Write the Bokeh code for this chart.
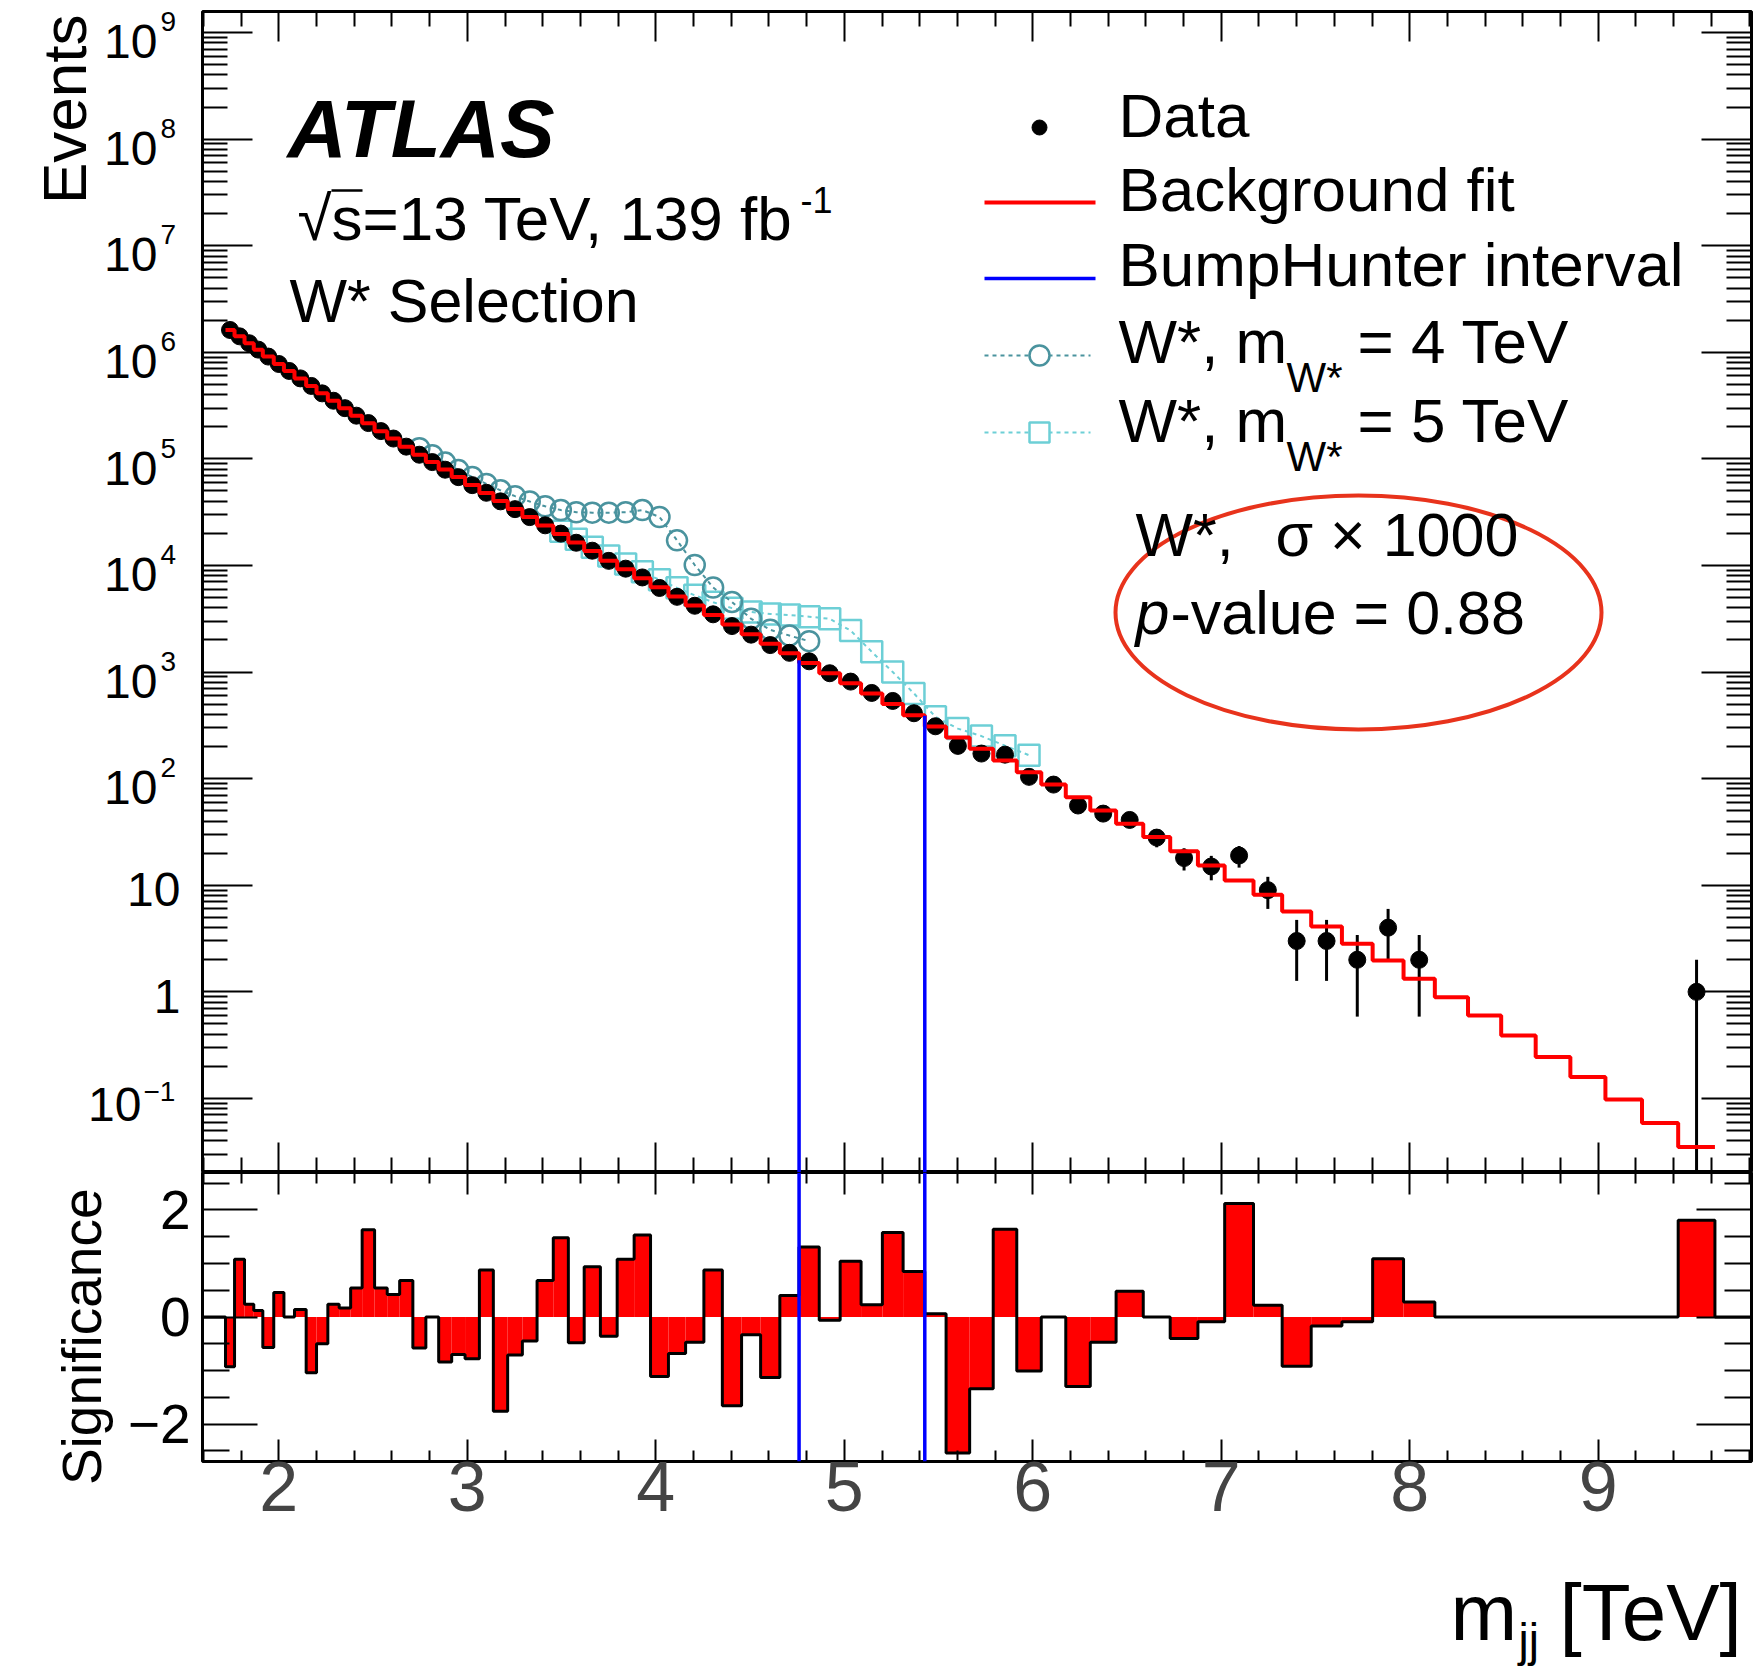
import math
from bokeh.plotting import figure
from bokeh.models import (Range1d, LinearScale, FixedTicker, LinearAxis, LogAxis, Label,
                          CustomJSTickFormatter)
from bokeh.layouts import column, row
from bokeh.embed import file_html
from bokeh.resources import INLINE

FONT = "Liberation Sans"

# ---------------- data ----------------
bin_edges = [1.717, 1.765, 1.818, 1.867, 1.915, 1.973, 2.027, 2.083, 2.145, 2.200,
             2.260, 2.320, 2.381, 2.442, 2.508, 2.575, 2.641, 2.711, 2.780, 2.848,
             2.917, 2.988, 3.064, 3.138, 3.214, 3.292, 3.370, 3.456, 3.536, 3.620,
             3.706, 3.795, 3.885, 3.972, 4.067, 4.158, 4.255, 4.353, 4.455, 4.556,
             4.658, 4.760, 4.867, 4.978, 5.089, 5.202, 5.312, 5.427, 5.540, 5.665,
             5.790, 5.915, 6.045, 6.175, 6.305, 6.442, 6.586, 6.729, 6.876, 7.018,
             7.171, 7.323, 7.477, 7.640, 7.803, 7.967, 8.133, 8.309, 8.485, 8.668,
             8.852, 9.038, 9.232, 9.424, 9.619]

background_fit = [1.62e6, 1.413e6, 1.216e6, 1.059e6, 9.12e5, 7.76e5, 6.68e5, 5.69e5, 4.84e5, 4.12e5,
                  3.51e5, 2.99e5, 2.54e5, 2.16e5, 1.82e5, 1.55e5, 1.30e5, 1.096e5, 9.33e4, 7.94e4,
                  6.76e4, 5.69e4, 4.79e4, 4.03e4, 3.39e4, 2.85e4, 2.37e4, 1.97e4, 1.64e4, 1.365e4,
                  1.109e4, 9230, 7590, 6240, 5130, 4220, 3430, 2790, 2260, 1840,
                  1500, 1216, 977, 785, 631, 501, 394, 309, 243, 191,
                  148, 115, 88.1, 66.8, 50.4, 37.8, 28.3, 20.9, 15.3, 11.1,
                  8.15, 5.68, 4.10, 2.82, 1.97, 1.33, 0.89, 0.60, 0.39, 0.245,
                  0.159, 0.098, 0.059, 0.035]

data_events = [1618816, 1411282, 1216265, 1059123, 911456, 776405, 667990, 569106, 483276, 411679,
               351142, 299093, 254272, 216758, 182231, 155165, 130245, 109408, 93295, 79163,
               67418, 56714, 48093, 39946, 33769, 28424, 23805, 19907, 16339, 13760,
               11052, 9334, 7723, 6152, 5081, 4189, 3482, 2702, 2244, 1792,
               1515, 1262, 975, 814, 637, 536, 411, 310, 203, 172,
               168, 104, 88, 56, 47, 41, 28, 18, 15, 19,
               9, 3, 3, 2, 4, 2, 0, 0, 0, 0,
               0, 0, 0, 1]

significance = [-0.93, 1.08, 0.24, 0.12, -0.57, 0.46, 0.0, 0.14, -1.04, -0.50,
                0.24, 0.17, 0.54, 1.63, 0.54, 0.42, 0.68, -0.58, 0.0, -0.84,
                -0.70, -0.78, 0.88, -1.76, -0.71, -0.45, 0.68, 1.48, -0.48, 0.94,
                -0.36, 1.08, 1.53, -1.11, -0.68, -0.47, 0.88, -1.66, -0.33, -1.13,
                0.40, 1.31, -0.06, 1.04, 0.23, 1.58, 0.85, 0.06, -2.54, -1.34,
                1.64, -1.01, 0.0, -1.30, -0.47, 0.48, 0.0, -0.40, -0.09, 2.12,
                0.22, -0.92, -0.17, -0.09, 1.09, 0.28, 0.0, 0.0, 0.0, 0.0,
                0.0, 0.0, 0.0, 1.81]

# W* signals (x1000) on top of the background, first bin index and values
wstar4_first_bin = 17
wstar4_events = [125900, 108400, 92300, 78500, 67600, 58200, 50700, 44700, 39800, 35900,
                 33100, 31600, 31300, 31300, 31600, 33100, 28500, 17200, 10100, 6220,
                 4550, 3160, 2490, 2200, 1950]
wstar5_first_bin = 27
wstar5_events = [20900, 17600, 14800, 12300, 10350, 8710, 7330, 6170, 5250, 4520,
                 3980, 3670, 3510, 3430, 3310, 3160, 2450, 1550, 1000, 631,
                 380, 295, 251, 204, 166]

bump_edges = [4.760, 5.427]
bump_tops = [1290, 390]

x_ticks = [2, 3, 4, 5, 6, 7, 8, 9]
x_tick_labels = ["2", "3", "4", "5", "6", "7", "8", "9"]
log_decades = [9, 8, 7, 6, 5, 4, 3, 2, 1, 0, -1]
sig_ticks = [2, 0, -2]
sig_tick_labels = ["2", "0", "\u22122"]

# ---------------- layout constants (page pixels) ----------------
XMIN, XMAX = 1.595, 9.813
YMIN, YMAX = 0.0202, 1.574e9
SMIN, SMAX = -2.7, 2.7
W_LEFT = 200
FW = 1549
FH_TOP = 1161
FH_BOT = 289
FL, FR = 202, 1751          # page x of frame left / right
TOP_Y0, TOP_Y1 = 11, 1172   # page y of top panel frame
BOT_Y0, BOT_Y1 = 1172, 1461 # page y of bottom panel frame
BOT_H = 384
C_Y0 = TOP_Y1 + BOT_H       # page y where the x-title strip starts
PAGE_W, PAGE_H = 1753, 1674
BASE_SHIFT = 0.35           # label anchor -> alphabetic baseline, in em
A_DY = -11                  # empirical vertical correction of the left strip

C_FIT = "#FF0000"
C_BUMP = "#0000FF"
C_W4 = "#4A939E"
C_W5 = "#6DCFD6"
C_ELL = "#E8331C"

centers = [(bin_edges[i] + bin_edges[i + 1]) / 2 for i in range(len(bin_edges) - 1)]


def style_axis(ax, tin, tmin, labels=False):
    ax.axis_line_color = None
    ax.major_tick_in = tin
    ax.major_tick_out = 0
    ax.minor_tick_in = tmin
    ax.minor_tick_out = 0
    ax.major_tick_line_color = "black"
    ax.minor_tick_line_color = "black"
    ax.major_tick_line_width = 2
    ax.minor_tick_line_width = 2
    if not labels:
        ax.formatter = CustomJSTickFormatter(code="return '';")
        ax.major_label_text_font_size = "1px"
        ax.major_label_standoff = 0


def lab(fig, x, y, text, size, align="left", style="normal", angle=0.0, xr="default", yr="default"):
    """x, y: page pixels of the text's alphabetic baseline anchor."""
    if angle == 0.0:
        y = y - BASE_SHIFT * size
    else:
        x = x - BASE_SHIFT * size
    fig.add_layout(Label(x=x, y=y, text=text, text_font=FONT, text_font_size=f"{size}px",
                         text_font_style=style, text_align=align, text_baseline="alphabetic",
                         angle=angle, text_color="black", x_range_name=xr, y_range_name=yr))


def text_strip(w, h, y0):
    f = figure(frame_width=w, frame_height=h, x_range=Range1d(0, w), y_range=Range1d(y0 + h, y0),
               output_backend="svg", toolbar_location=None, x_axis_location=None,
               y_axis_location=None, min_border_left=0, min_border_right=0,
               min_border_top=0, min_border_bottom=0)
    f.outline_line_color = None
    f.xgrid.visible = False
    f.ygrid.visible = False
    f.background_fill_color = "white"
    f.border_fill_color = "white"
    return f


x_minor = [round(1.6 + 0.2 * i, 1) for i in range(42)
           if abs((1.6 + 0.2 * i) - round(1.6 + 0.2 * i)) > 1e-6]
log_minor = [m * 10.0 ** k for k in range(-2, 10) for m in range(2, 10) if YMIN < m * 10.0 ** k < YMAX]
log_major = [10.0 ** k for k in log_decades]

# ---------------- top panel ----------------
top = figure(frame_width=FW, frame_height=FH_TOP, x_range=Range1d(XMIN, XMAX),
             y_range=Range1d(YMIN, YMAX), y_axis_type="log", output_backend="svg",
             toolbar_location=None, min_border_left=FL - W_LEFT, min_border_right=PAGE_W - FR,
             min_border_top=TOP_Y0, min_border_bottom=0)
top.extra_x_ranges = {"px": Range1d(FL, FR)}
top.extra_y_ranges = {"py": Range1d(TOP_Y1, TOP_Y0)}
top.extra_x_scales = {"px": LinearScale()}
top.extra_y_scales = {"py": LinearScale()}
top.xgrid.visible = False
top.ygrid.visible = False
top.outline_line_color = "black"
top.outline_line_width = 3
top.background_fill_color = "white"
top.border_fill_color = "white"

xt = FixedTicker(ticks=x_ticks, minor_ticks=x_minor)
yt = FixedTicker(ticks=log_major, minor_ticks=log_minor)
top.xaxis.ticker = xt
top.yaxis.ticker = yt
style_axis(top.xaxis[0], 30, 15)
style_axis(top.yaxis[0], 50, 25)
ax_above = LinearAxis(ticker=xt)
style_axis(ax_above, 30, 15)
top.add_layout(ax_above, "above")
ax_right = LogAxis(ticker=yt)
style_axis(ax_right, 50, 25)
top.add_layout(ax_right, "right")

# signals: dashed connecting line + open markers
w4x = centers[wstar4_first_bin:wstar4_first_bin + len(wstar4_events)]
w5x = centers[wstar5_first_bin:wstar5_first_bin + len(wstar5_events)]
top.line(w5x, wstar5_events, line_color=C_W5, line_width=2, line_dash="4 4")
top.scatter(w5x, wstar5_events, marker="square", size=21, fill_color=None,
            line_color=C_W5, line_width=2.5)
top.line(w4x, wstar4_events, line_color=C_W4, line_width=2, line_dash="4 4")
top.scatter(w4x, wstar4_events, marker="circle", size=20, fill_color=None,
            line_color=C_W4, line_width=2.5)

# data with sqrt(N) error bars
dx = [c for c, n in zip(centers, data_events) if n > 0]
dy = [n for n in data_events if n > 0]
err_lo = [max(n - math.sqrt(n), YMIN * 0.5) for n in dy]
err_hi = [n + math.sqrt(n) for n in dy]
top.segment(x0=dx, y0=err_lo, x1=dx, y1=err_hi, line_color="black", line_width=3)
top.scatter(dx, dy, marker="circle", size=17, fill_color="black", line_color="black")

# background fit step line
top.step(bin_edges, background_fit + [background_fit[-1]], mode="after",
         line_color=C_FIT, line_width=4)

# BumpHunter interval
top.segment(x0=bump_edges, y0=[YMIN, YMIN], x1=bump_edges, y1=bump_tops,
            line_color=C_BUMP, line_width=3.5)

# ATLAS label block
P = dict(xr="px", yr="py")
lab(top, 287, 157, "ATLAS", 82, style="bold italic", **P)
lab(top, 297, 240, "\u221as=13 TeV, 139 fb", 62, **P)
lab(top, 800, 212, "-1", 36, **P)
top.line([331, 362], [190, 190], x_range_name="px", y_range_name="py",
         line_color="black", line_width=2.5)
lab(top, 289, 322, "W* Selection", 61, **P)

# legend
LX_SYM, LX_TXT = 1039, 1118
top.scatter([LX_SYM], [127], x_range_name="px", y_range_name="py",
            marker="circle", size=15, fill_color="black", line_color="black")
lab(top, LX_TXT, 137, "Data", 62, **P)
top.line([984, 1095], [202, 202], x_range_name="px", y_range_name="py",
         line_color=C_FIT, line_width=4)
lab(top, LX_TXT, 211, "Background fit", 62, **P)
top.line([984, 1095], [278, 278], x_range_name="px", y_range_name="py",
         line_color=C_BUMP, line_width=3.5)
lab(top, LX_TXT, 286, "BumpHunter interval", 62, **P)
for ysym, ybase, col, mk, mass in [(355, 363, C_W4, "circle", "4"), (432, 442, C_W5, "square", "5")]:
    top.line([984, 1090], [ysym, ysym], x_range_name="px", y_range_name="py",
             line_color=col, line_width=2, line_dash="4 4")
    top.scatter([LX_SYM], [ysym], x_range_name="px", y_range_name="py",
                marker=mk, size=20, fill_color="white", line_color=col, line_width=2.5)
    lab(top, LX_TXT, ybase, "W*, m", 62, **P)
    lab(top, 1286, ybase + 29, "W*", 42, **P)
    lab(top, 1357, ybase, "= " + mass + " TeV", 62, **P)

# annotation with ellipse
lab(top, 1135, 556, "W*,", 61, **P)
lab(top, 1275, 556, "\u03c3 \u00d7 1000", 61, **P)
lab(top, 1135, 634, "p", 61, style="italic", **P)
lab(top, 1170, 634, "-value = 0.88", 61, **P)
top.ellipse(x=[1358], y=[612], width=[486], height=[234],
            x_range_name="px", y_range_name="py", fill_color=None,
            line_color=C_ELL, line_width=4)

# ---------------- left strip of the top panel: y tick labels and title ----------------
A = text_strip(W_LEFT, TOP_Y1, 0)
decade_px = FH_TOP / (math.log10(YMAX) - math.log10(YMIN))
for k in log_decades:
    ty = TOP_Y0 + (math.log10(YMAX) - k) * decade_px + A_DY
    if k >= 2:
        lab(A, 157, ty + 26, "10", 48, align="right")
        lab(A, 160, ty - 1, str(k), 28)
    elif k in (0, 1):
        lab(A, 180, ty + 21, "10" if k == 1 else "1", 48, align="right")
    else:
        lab(A, 141, ty + 23, "10", 48, align="right")
        lab(A, 143, ty + 3, "\u2212" + str(-k), 28)
lab(A, 86, 20 - 17, "Events", 62, align="right", angle=math.pi / 2)

# ---------------- bottom panel ----------------
bot = figure(frame_width=FW, frame_height=FH_BOT, x_range=top.x_range,
             y_range=Range1d(SMIN, SMAX), output_backend="svg", toolbar_location=None,
             min_border_left=FL - W_LEFT, min_border_right=PAGE_W - FR, min_border_top=0,
             min_border_bottom=BOT_H - FH_BOT)
bot.xgrid.visible = False
bot.ygrid.visible = False
bot.outline_line_color = "black"
bot.outline_line_width = 3
bot.background_fill_color = "white"
bot.border_fill_color = "white"

st = FixedTicker(ticks=sig_ticks, minor_ticks=[-2.5, -1.5, -1.0, -0.5, 0.5, 1.0, 1.5, 2.5])
bot.xaxis.ticker = xt
bot.yaxis.ticker = st
style_axis(bot.xaxis[0], 22, 11, labels=True)
style_axis(bot.yaxis[0], 55, 27)
bot.xaxis.major_label_overrides = dict(zip(x_ticks, x_tick_labels))
bot.xaxis.major_label_text_font = FONT
bot.xaxis.major_label_text_font_size = "70px"
bot.xaxis.major_label_standoff = 0
bax_above = LinearAxis(ticker=xt)
style_axis(bax_above, 22, 11)
bot.add_layout(bax_above, "above")
bax_right = LinearAxis(ticker=st)
style_axis(bax_right, 55, 27)
bot.add_layout(bax_right, "right")

bot.quad(left=bin_edges[:-1], right=bin_edges[1:], bottom=0, top=significance,
         fill_color="#FF0000", line_color=None)
bot.step([XMIN] + bin_edges + [XMAX], [0.0] + significance + [0.0, 0.0], mode="after",
         line_color="black", line_width=3)
bot.segment(x0=bump_edges, y0=[SMIN, SMIN], x1=bump_edges, y1=[SMAX, SMAX],
            line_color=C_BUMP, line_width=3.5)

# ---------------- left strip of the bottom panel ----------------
B = text_strip(W_LEFT, BOT_H, BOT_Y0)
unit_px = FH_BOT / (SMAX - SMIN)
for v, t in zip(sig_ticks, sig_tick_labels):
    ty = BOT_Y0 + (SMAX - v) * unit_px
    lab(B, 190, ty + 19, t, 55, align="right")
lab(B, 101, 1188, "Significance", 55, align="right", angle=math.pi / 2)

# ---------------- x title strip ----------------
C = text_strip(PAGE_W, PAGE_H - C_Y0, C_Y0)
lab(C, 1450, 1640, "m", 80)
lab(C, 1518, 1656, "jj", 46)
lab(C, 1559, 1640, "[TeV]", 80)

layout = column(row(A, top), row(B, bot), C)
open("out.html", "w").write(file_html(layout, INLINE))
